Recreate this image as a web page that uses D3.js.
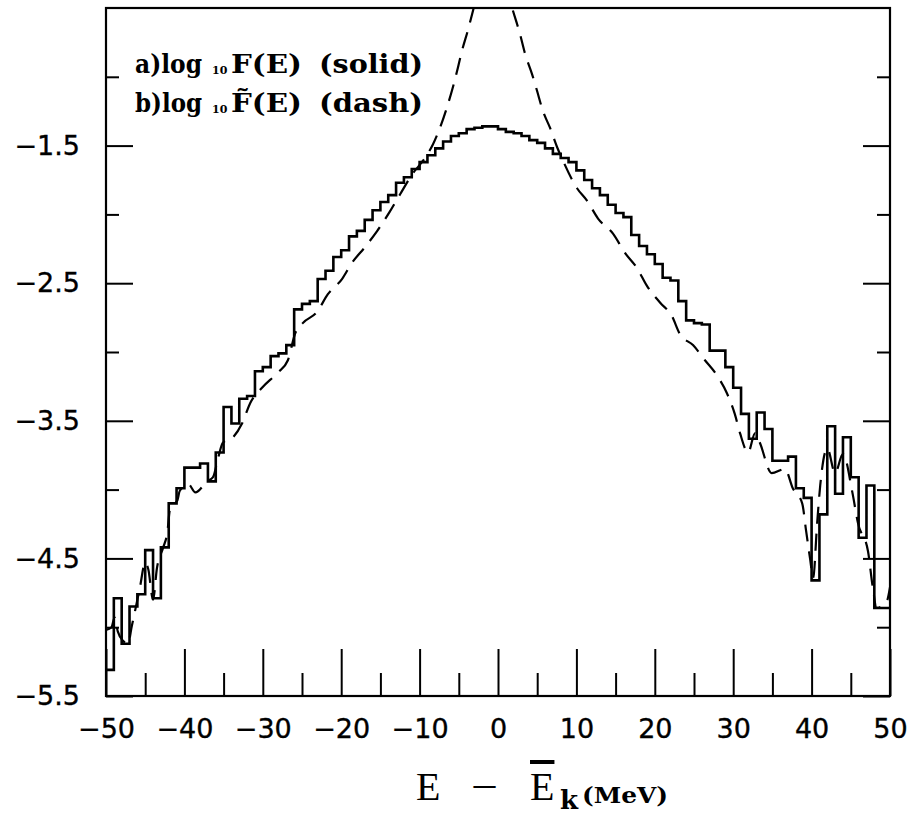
<!DOCTYPE html>
<html><head><meta charset="utf-8">
<script src="https://cdn.jsdelivr.net/npm/d3@7"></script>
<style>html,body{margin:0;padding:0;background:#fff;} svg{display:block;}</style>
</head><body>
<svg id="chart" width="915" height="819"></svg>
<script>
// ---- data ----
const binStart = [-50,-49,-48,-47,-46,-45,-44,-43,-42,-41,-40,-39,-38,-37,-36,-35,-34,-33,-32,-31,
  -30,-29,-28,-27,-26,-25,-24,-23,-22,-21,-20,-19,-18,-17,-16,-15,-14,-13,-12,-11,
  -10,-9,-8,-7,-6,-5,-4,-3,-2,-1,0,1,2,3,4,5,6,7,8,9,
  10,11,12,13,14,15,16,17,18,19,20,21,22,23,24,25,26,27,28,29,
  30,31,32,33,34,35,36,37,38,39,40,41,42,43,44,45,46,47,48,49];
const solidLogF = [-5.31,-4.79,-5.12,-4.85,-4.76,-4.44,-4.79,-4.42,-4.10,-3.99,
  -3.84,-3.84,-3.81,-3.94,-3.73,-3.40,-3.52,-3.34,-3.32,-3.14,
  -3.11,-3.03,-3.01,-2.95,-2.69,-2.65,-2.63,-2.47,-2.41,-2.31,
  -2.26,-2.16,-2.12,-2.04,-1.97,-1.91,-1.86,-1.77,-1.73,-1.67,
  -1.62,-1.57,-1.52,-1.47,-1.43,-1.41,-1.38,-1.37,-1.36,-1.36,
  -1.38,-1.40,-1.41,-1.43,-1.46,-1.48,-1.52,-1.56,-1.59,-1.62,
  -1.68,-1.75,-1.81,-1.86,-1.93,-1.99,-2.02,-2.15,-2.23,-2.29,
  -2.36,-2.46,-2.48,-2.63,-2.77,-2.79,-2.80,-2.99,-2.99,-3.11,
  -3.26,-3.45,-3.63,-3.44,-3.56,-3.79,-3.79,-3.76,-3.99,-4.06,
  -4.66,-4.18,-3.54,-4.03,-3.62,-3.91,-4.35,-3.97,-4.86,-4.86];
const dashE = [-50,-49.3,-48.9,-48.5,-47.8,-47.2,-46.7,-45.7,-45.0,-44.6,-44.0,-43.5,-42.7,-42.2,-41.8,-40.9,-40.6,-39.5,-38.6,-37.1,
  -36.35,-35.7,-35.1,-33.8,-32.65,-31.6,-30.1,-28.1,-26.8,-25.9,-24.9,-23.1,-21.7,-19.9,-18.6,-17.0,-15.4,-13.8,-12.5,-10.84,
  -9.57,-8.29,-7.40,-6.50,-5.87,-5.10,-4.59,-3.83,-3.19,-0.6,1.91,2.81,3.44,4.34,4.97,5.74,6.63,7.53,8.29,10.08,
  11.35,12.76,14.67,16.2,17.73,19.0,20.66,22.19,23.2,24.87,26.4,27.93,29.2,30.2,30.87,31.9,32.8,33.4,34.9,36.6,
  37.6,38.8,39.3,39.8,40.2,40.7,41.1,42.0,43.0,44.0,45.2,45.9,47.2,47.8,48.3,49.6,50];
const dashLogF = [-5.02,-5.0,-4.93,-5.03,-5.10,-5.12,-4.99,-4.72,-4.53,-4.58,-4.80,-4.57,-4.42,-4.32,-4.13,-4.08,-4.01,-3.96,-4.02,-3.94,
  -3.91,-3.77,-3.66,-3.62,-3.52,-3.37,-3.26,-3.15,-3.06,-2.87,-2.79,-2.71,-2.58,-2.47,-2.35,-2.24,-2.12,-1.98,-1.855,-1.70,
  -1.61,-1.49,-1.37,-1.22,-1.10,-0.93,-0.81,-0.66,-0.52,0.0,-0.52,-0.69,-0.83,-0.98,-1.10,-1.25,-1.37,-1.51,-1.61,-1.81,
  -1.90,-2.03,-2.14,-2.28,-2.39,-2.52,-2.64,-2.74,-2.87,-2.95,-3.06,-3.17,-3.30,-3.45,-3.59,-3.73,-3.59,-3.66,-3.88,-3.85,
  -3.99,-4.10,-4.30,-4.50,-4.64,-4.25,-3.97,-3.70,-3.88,-3.74,-4.02,-4.24,-4.45,-4.71,-4.86,-4.81,-4.71];
const xMajorTicks = [-50,-40,-30,-20,-10,0,10,20,30,40,50];
const xTickLabels = ["\u221250","\u221240","\u221230","\u221220","\u221210","0","10","20","30","40","50"];
const xMinorTicks = [-45,-35,-25,-15,-5,5,15,25,35,45];
const yMajorTicks = [-1.5,-2.5,-3.5,-4.5,-5.5];
const yTickLabels = ["\u22121.5","\u22122.5","\u22123.5","\u22124.5","\u22125.5"];
const yMinorTicks = [-1,-2,-3,-4,-5];

// ---- layout ----
const L = 106, R = 890, T = 8, B = 696;
const svg = d3.select("#chart");
svg.append("rect").attr("width",915).attr("height",819).attr("fill","#fff");
const x = d3.scaleLinear().domain([-50,50]).range([L,R]);
const y = d3.scaleLinear().domain([-5.5,-0.5]).range([B,T]);

svg.append("clipPath").attr("id","clip").append("rect")
  .attr("x",L).attr("y",T).attr("width",R-L).attr("height",B-T);

// axes
const tickFont = "'DejaVu Sans', sans-serif";
function style(g){
  g.select(".domain").remove();
  g.selectAll("line").attr("stroke","#000").attr("stroke-width",2);
  g.selectAll("text").attr("font-family",tickFont).attr("font-size",27).attr("fill","#000")
    .attr("stroke","#000").attr("stroke-width",0.35);
}
svg.append("g").attr("transform",`translate(0,${B})`)
  .call(d3.axisBottom(x).tickValues(xMajorTicks).tickFormat((d,i)=>xTickLabels[i]).tickSizeInner(-47).tickSizeOuter(0).tickPadding(22.5))
  .call(style);
svg.append("g").attr("transform",`translate(0,${B})`)
  .call(d3.axisBottom(x).tickValues(xMinorTicks).tickFormat("").tickSizeInner(-23).tickSizeOuter(0))
  .call(style);
svg.append("g").attr("transform",`translate(${L},0)`)
  .call(d3.axisLeft(y).tickValues(yMajorTicks).tickFormat((d,i)=>yTickLabels[i]).tickSizeInner(-27).tickSizeOuter(0).tickPadding(26))
  .call(style);
svg.append("g").attr("transform",`translate(${L},0)`)
  .call(d3.axisLeft(y).tickValues(yMinorTicks).tickFormat("").tickSizeInner(-13).tickSizeOuter(0))
  .call(style);
svg.append("g").attr("transform",`translate(${R},0)`)
  .call(d3.axisRight(y).tickValues(yMajorTicks).tickFormat("").tickSizeInner(-27).tickSizeOuter(0))
  .call(style);
svg.append("g").attr("transform",`translate(${R},0)`)
  .call(d3.axisRight(y).tickValues(yMinorTicks).tickFormat("").tickSizeInner(-13).tickSizeOuter(0))
  .call(style);

// frame
svg.append("rect").attr("x",L).attr("y",T).attr("width",R-L).attr("height",B-T)
  .attr("fill","none").attr("stroke","#000").attr("stroke-width",2.2);

// solid histogram
const stepPts = binStart.map((e,i)=>[e, solidLogF[i]]);
stepPts.push([50, solidLogF[solidLogF.length-1]]);
svg.append("path").attr("clip-path","url(#clip)")
  .attr("d", d3.line().x(d=>x(d[0])).y(d=>y(d[1])).curve(d3.curveStepAfter)(stepPts))
  .attr("fill","none").attr("stroke","#000").attr("stroke-width",2.6).attr("stroke-linejoin","miter");

// dashed curve
const dashPts = dashE.map((e,i)=>[e, dashLogF[i]]);
svg.append("path").attr("clip-path","url(#clip)")
  .attr("d", d3.line().x(d=>x(d[0])).y(d=>y(d[1])).curve(d3.curveMonotoneX)(dashPts))
  .attr("fill","none").attr("stroke","#000").attr("stroke-width",2.2).attr("stroke-dasharray","17,10");

// legend
const lf = "'DejaVu Serif', serif";
function legendLine(yb, pre, fun, post){
  const t = svg.append("text").attr("font-family",lf).attr("font-weight","bold").attr("font-size",26).attr("fill","#000");
  t.append("tspan").attr("x",135).attr("y",yb).attr("textLength",67).attr("lengthAdjust","spacingAndGlyphs").text(pre);
  t.append("tspan").attr("x",212).attr("y",yb+1).attr("font-size",11).text("10");
  t.append("tspan").attr("x",231).attr("y",yb).attr("textLength",71).attr("lengthAdjust","spacingAndGlyphs").text(fun);
  t.append("tspan").attr("x",319).attr("y",yb).attr("textLength",104).attr("lengthAdjust","spacingAndGlyphs").text(post);
}
legendLine(73, "a)log", "F(E)", "(solid)");
legendLine(112, "b)log", "F\u0303(E)", "(dash)");

// x-axis title
const sf = "'Liberation Serif', serif";
const xt = svg.append("g");
xt.append("text").attr("x",416).attr("y",800).attr("font-family",sf).attr("font-size",40).text("E");
xt.append("text").attr("x",471).attr("y",800).attr("font-family",sf).attr("font-size",40)
  .attr("textLength",27).attr("lengthAdjust","spacingAndGlyphs").text("\u2212");
xt.append("text").attr("x",530).attr("y",800).attr("font-family",sf).attr("font-size",40)
  .attr("text-decoration","overline").text("E");
xt.append("text").attr("x",560).attr("y",809).attr("font-family",lf).attr("font-weight","bold").attr("font-size",26).text("k");
xt.append("text").attr("x",582).attr("y",803).attr("font-family",lf).attr("font-weight","bold").attr("font-size",23)
  .attr("textLength",86).attr("lengthAdjust","spacingAndGlyphs").text("(MeV)");
</script>
</body></html>
